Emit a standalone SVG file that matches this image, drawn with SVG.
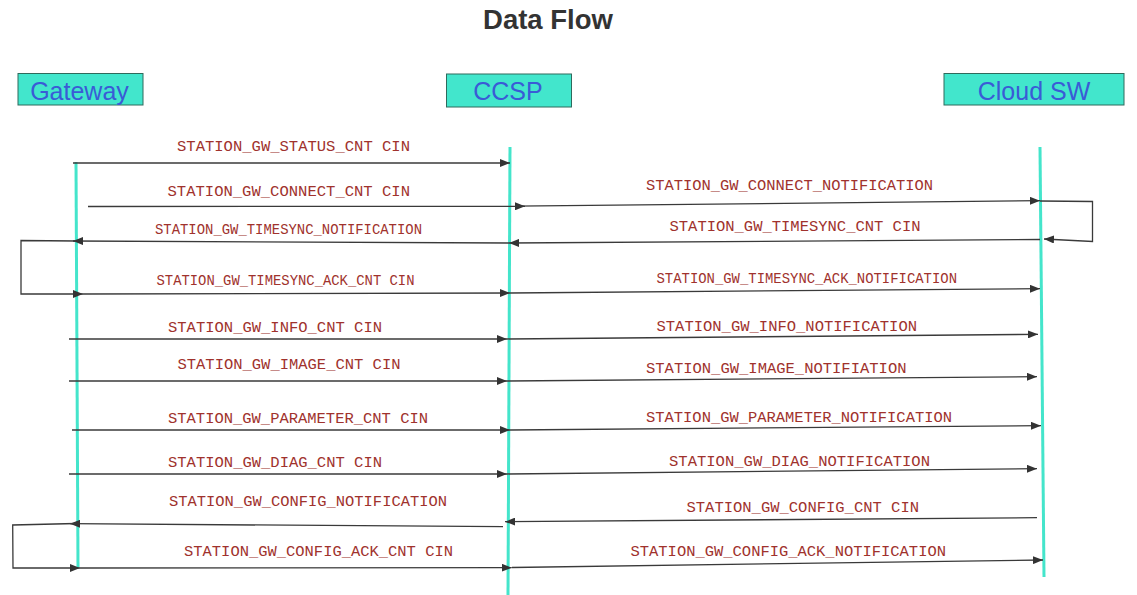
<svg xmlns="http://www.w3.org/2000/svg" width="1137" height="595" viewBox="0 0 1137 595">
<defs>
<marker id="ah" viewBox="0 0 10 8" refX="10" refY="4" markerWidth="10" markerHeight="8" markerUnits="userSpaceOnUse" orient="auto">
<path d="M0,0 L10,4 L0,8 Z" fill="#333"/>
</marker>
<style>
.title{font-family:"Liberation Sans",Arial,sans-serif;font-weight:bold;font-size:27.5px;fill:#333}
.box{fill:#42E6CC;stroke:#2F6A5C;stroke-width:1}
.name{font-family:"Liberation Sans",Arial,sans-serif;font-size:25px;fill:#3A5BD6;text-anchor:middle}
.life{stroke:#44E5CB;stroke-width:3;fill:none}
.msg{stroke:#3a3a3a;stroke-width:1.3;fill:none}
.arr{marker-end:url(#ah)}
.lbl{font-family:"Liberation Mono","Courier New",monospace;font-size:15.4px;fill:#A0322D}
</style>
</defs>
<rect width="1137" height="595" fill="#fff"/>
<text class="title" x="548" y="29.3" text-anchor="middle">Data Flow</text>

<g id="gateway">
<rect class="box" x="18" y="73.5" width="125" height="31.5"/>
<text class="name" x="79.5" y="99.5">Gateway</text>
<line class="life" x1="76" y1="162" x2="78" y2="567"/>
</g>
<g id="ccsp">
<rect class="box" x="446.5" y="74" width="125" height="33"/>
<text class="name" x="508" y="100">CCSP</text>
<line class="life" x1="510" y1="147" x2="508" y2="595"/>
</g>
<g id="cloudsw">
<rect class="box" x="944" y="73.5" width="180" height="31.5"/>
<text class="name" x="1034" y="100">Cloud SW</text>
<line class="life" x1="1040" y1="147" x2="1044" y2="577"/>
</g>

<g id="connectors">
<line class="msg arr" x1="73" y1="163" x2="510" y2="163"/>
<line class="msg arr" x1="88" y1="206.5" x2="525" y2="206.3"/>
<line class="msg arr" x1="515" y1="206.2" x2="1040" y2="200.7"/>
<polyline class="msg arr" points="1040,201 1092.5,201.5 1092.5,241.5 1044,239"/>
<line class="msg arr" x1="1040" y1="239.5" x2="509" y2="243"/>
<line class="msg arr" x1="509" y1="243" x2="73" y2="241"/>
<polyline class="msg arr" points="76,241 21,240.5 21,294 83,294"/>
<line class="msg arr" x1="83" y1="294" x2="510" y2="293"/>
<line class="msg arr" x1="510" y1="293" x2="1040" y2="288.7"/>

<line class="msg arr" x1="69" y1="339" x2="507" y2="339"/>
<line class="msg arr" x1="507" y1="339" x2="1038" y2="334.3"/>
<line class="msg arr" x1="69" y1="381" x2="507" y2="381"/>
<line class="msg arr" x1="507" y1="381" x2="1037" y2="376.7"/>
<line class="msg arr" x1="72" y1="430" x2="510" y2="430"/>
<line class="msg arr" x1="510" y1="430" x2="1041" y2="425.7"/>
<line class="msg arr" x1="69" y1="474" x2="507" y2="474"/>
<line class="msg arr" x1="507" y1="474" x2="1037" y2="468.7"/>

<line class="msg arr" x1="1037" y1="517.7" x2="505" y2="521.7"/>
<line class="msg arr" x1="503" y1="526.7" x2="70" y2="523.7"/>
<polyline class="msg arr" points="76,523.5 12.7,525 13,568 80,568"/>
<line class="msg arr" x1="80" y1="568" x2="511.7" y2="567.7"/>
<line class="msg arr" x1="512" y1="567.5" x2="1043" y2="560"/>
</g>

<g id="labels">
<text class="lbl" x="177" y="150.5" textLength="233" lengthAdjust="spacingAndGlyphs">STATION_GW_STATUS_CNT CIN</text>
<text class="lbl" x="167.5" y="196" textLength="242.5" lengthAdjust="spacingAndGlyphs">STATION_GW_CONNECT_CNT CIN</text>
<text class="lbl" x="155" y="234" textLength="267" lengthAdjust="spacingAndGlyphs">STATION_GW_TIMESYNC_NOTIFICATION</text>
<text class="lbl" x="156.5" y="285" textLength="258" lengthAdjust="spacingAndGlyphs">STATION_GW_TIMESYNC_ACK_CNT CIN</text>
<text class="lbl" x="646" y="190" textLength="287" lengthAdjust="spacingAndGlyphs">STATION_GW_CONNECT_NOTIFICATION</text>
<text class="lbl" x="669.5" y="230.7" textLength="251" lengthAdjust="spacingAndGlyphs">STATION_GW_TIMESYNC_CNT CIN</text>
<text class="lbl" x="656.5" y="283" textLength="300.5" lengthAdjust="spacingAndGlyphs">STATION_GW_TIMESYNC_ACK_NOTIFICATION</text>

<text class="lbl" x="168" y="331.7" textLength="214" lengthAdjust="spacingAndGlyphs">STATION_GW_INFO_CNT CIN</text>
<text class="lbl" x="177.5" y="369" textLength="223" lengthAdjust="spacingAndGlyphs">STATION_GW_IMAGE_CNT CIN</text>
<text class="lbl" x="168" y="422.7" textLength="260" lengthAdjust="spacingAndGlyphs">STATION_GW_PARAMETER_CNT CIN</text>
<text class="lbl" x="168" y="467.3" textLength="214" lengthAdjust="spacingAndGlyphs">STATION_GW_DIAG_CNT CIN</text>
<text class="lbl" x="169" y="505.7" textLength="278" lengthAdjust="spacingAndGlyphs">STATION_GW_CONFIG_NOTIFICATION</text>
<text class="lbl" x="184" y="555.7" textLength="269" lengthAdjust="spacingAndGlyphs">STATION_GW_CONFIG_ACK_CNT CIN</text>

<text class="lbl" x="656.5" y="330.7" textLength="260.5" lengthAdjust="spacingAndGlyphs">STATION_GW_INFO_NOTIFICATION</text>
<text class="lbl" x="646" y="372.7" textLength="260.5" lengthAdjust="spacingAndGlyphs">STATION_GW_IMAGE_NOTIFIATION</text>
<text class="lbl" x="646" y="421.7" textLength="306" lengthAdjust="spacingAndGlyphs">STATION_GW_PARAMETER_NOTIFICATION</text>
<text class="lbl" x="669" y="466" textLength="261" lengthAdjust="spacingAndGlyphs">STATION_GW_DIAG_NOTIFICATION</text>
<text class="lbl" x="686.5" y="511.7" textLength="232.5" lengthAdjust="spacingAndGlyphs">STATION_GW_CONFIG_CNT CIN</text>
<text class="lbl" x="630.5" y="555.7" textLength="315.5" lengthAdjust="spacingAndGlyphs">STATION_GW_CONFIG_ACK_NOTIFICATION</text>
</g>
</svg>
